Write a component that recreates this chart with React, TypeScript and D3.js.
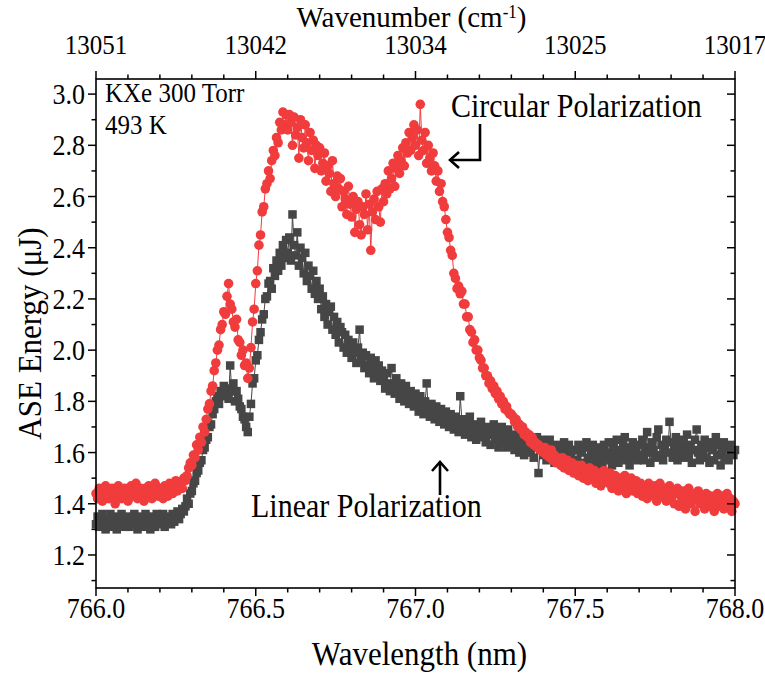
import React from "react";
import * as d3 from "d3";

const WL_START = 766.0;
const WL_STEP = 0.005;

// Circular polarization (red circles), ASE energy in µJ, sampled every 0.005 nm from 766.000 nm
const circular = [
  1.44,1.42,1.46,1.45,1.41,1.43,1.47,1.44,1.42,1.45,1.46,1.43,1.40,1.44,1.47,1.45,1.42,1.43,1.46,1.44,
  1.41,1.45,1.47,1.43,1.44,1.48,1.42,1.45,1.46,1.43,1.41,1.46,1.44,1.47,1.45,1.42,1.44,1.48,1.45,1.43,
  1.46,1.44,1.42,1.47,1.45,1.43,1.48,1.46,1.44,1.47,1.49,1.45,1.47,1.48,1.46,1.50,1.49,1.51,1.54,1.56,
  1.55,1.59,1.58,1.63,1.61,1.66,1.64,1.70,1.68,1.73,1.77,1.79,1.84,1.86,1.92,1.95,2.00,2.02,2.08,2.10,
  2.15,2.14,2.21,2.26,2.18,2.16,2.11,2.09,2.12,2.04,2.03,1.98,2.00,1.94,1.95,1.89,1.93,2.01,2.11,2.16,
  2.26,2.31,2.41,2.45,2.54,2.56,2.63,2.65,2.70,2.67,2.74,2.78,2.76,2.83,2.81,2.89,2.86,2.93,2.88,2.92,
  2.86,2.92,2.89,2.80,2.91,2.84,2.87,2.75,2.90,2.83,2.79,2.88,2.81,2.74,2.85,2.78,2.82,2.71,2.80,2.76,
  2.79,2.70,2.73,2.77,2.66,2.72,2.69,2.62,2.74,2.65,2.60,2.68,2.63,2.67,2.56,2.62,2.59,2.53,2.64,2.57,
  2.52,2.60,2.46,2.55,2.58,2.49,2.45,2.56,2.53,2.61,2.47,2.57,2.39,2.54,2.59,2.51,2.62,2.56,2.50,2.63,
  2.58,2.65,2.61,2.70,2.63,2.67,2.73,2.64,2.71,2.76,2.69,2.74,2.79,2.72,2.81,2.77,2.85,2.78,2.83,2.88,
  2.80,2.86,2.76,2.96,2.82,2.78,2.85,2.73,2.80,2.75,2.70,2.77,2.72,2.66,2.70,2.62,2.65,2.58,2.56,2.51,
  2.46,2.44,2.39,2.37,2.30,2.28,2.24,2.25,2.22,2.23,2.18,2.18,2.13,2.13,2.08,2.07,2.03,2.04,2.00,2.00,
  1.97,1.96,1.93,1.93,1.90,1.90,1.87,1.88,1.85,1.86,1.83,1.84,1.81,1.82,1.79,1.80,1.77,1.78,1.76,1.75,
  1.75,1.74,1.72,1.73,1.70,1.71,1.69,1.70,1.67,1.68,1.66,1.67,1.64,1.66,1.63,1.64,1.62,1.63,1.61,1.62,
  1.60,1.62,1.59,1.60,1.58,1.61,1.57,1.59,1.56,1.58,1.57,1.55,1.58,1.54,1.56,1.57,1.53,1.55,1.56,1.52,
  1.54,1.55,1.51,1.53,1.55,1.50,1.53,1.52,1.49,1.54,1.51,1.50,1.53,1.48,1.51,1.52,1.47,1.50,1.53,1.49,
  1.50,1.48,1.52,1.46,1.49,1.51,1.47,1.45,1.50,1.48,1.46,1.51,1.44,1.48,1.47,1.50,1.45,1.47,1.49,1.44,
  1.46,1.48,1.43,1.47,1.45,1.42,1.48,1.44,1.46,1.43,1.47,1.41,1.45,1.48,1.43,1.44,1.46,1.41,1.45,1.47,
  1.42,1.45,1.40,1.44,1.46,1.39,1.43,1.41,1.45,1.38,1.43,1.46,1.40,1.42,1.44,1.37,1.42,1.45,1.40,1.43,
  1.41,1.38,1.44,1.42,1.39,1.43,1.40,1.37,1.42,1.44,1.39,1.41,1.43,1.38,1.40,1.44,1.39,1.42,1.37,1.41,
  1.40,
];

// Linear polarization (dark grey squares)
const linear = [
  1.32,1.35,1.31,1.33,1.36,1.32,1.30,1.34,1.33,1.36,1.31,1.33,1.35,1.30,1.34,1.32,1.36,1.33,1.31,1.34,
  1.35,1.31,1.33,1.32,1.36,1.34,1.30,1.33,1.35,1.31,1.34,1.36,1.32,1.33,1.30,1.35,1.33,1.31,1.36,1.34,
  1.32,1.34,1.36,1.31,1.33,1.35,1.34,1.32,1.36,1.33,1.35,1.37,1.34,1.36,1.38,1.37,1.39,1.42,1.40,1.44,
  1.45,1.48,1.49,1.52,1.53,1.56,1.57,1.61,1.62,1.65,1.66,1.70,1.71,1.75,1.77,1.80,1.82,1.79,1.84,1.82,
  1.86,1.83,1.85,1.81,1.94,1.84,1.87,1.80,1.84,1.81,1.78,1.77,1.74,1.73,1.70,1.68,1.74,1.79,1.87,1.89,
  1.96,1.98,2.04,2.07,2.12,2.14,2.20,2.21,2.26,2.27,2.24,2.32,2.29,2.35,2.31,2.38,2.33,2.41,2.36,2.43,
  2.38,2.44,2.35,2.53,2.41,2.37,2.46,2.33,2.40,2.36,2.30,2.38,2.27,2.33,2.29,2.24,2.31,2.22,2.27,2.20,
  2.24,2.16,2.21,2.13,2.18,2.10,2.15,2.17,2.08,2.13,2.06,2.11,2.03,2.09,2.07,2.01,2.06,1.99,2.04,2.02,
  1.97,2.03,1.99,1.95,2.01,2.08,1.96,1.99,1.93,1.98,1.94,1.91,1.97,1.93,1.89,1.96,1.91,1.94,1.88,1.92,
  1.89,1.85,1.91,1.87,1.84,1.93,1.86,1.83,1.89,1.84,1.81,1.87,1.83,1.80,1.86,1.82,1.79,1.84,1.81,1.78,
  1.83,1.79,1.76,1.82,1.78,1.75,1.80,1.87,1.77,1.74,1.79,1.76,1.73,1.78,1.75,1.72,1.77,1.74,1.71,1.76,
  1.73,1.70,1.75,1.72,1.69,1.74,1.71,1.68,1.82,1.73,1.70,1.67,1.72,1.69,1.74,1.66,1.71,1.68,1.65,1.70,
  1.67,1.72,1.66,1.69,1.64,1.70,1.67,1.63,1.68,1.71,1.65,1.68,1.62,1.67,1.70,1.64,1.66,1.62,1.69,1.65,
  1.63,1.67,1.61,1.66,1.64,1.60,1.67,1.63,1.59,1.65,1.62,1.66,1.60,1.64,1.58,1.63,1.66,1.52,1.61,1.65,
  1.59,1.63,1.57,1.62,1.65,1.58,1.61,1.56,1.63,1.60,1.57,1.62,1.59,1.64,1.56,1.60,1.63,1.58,1.61,1.55,
  1.61,1.57,1.63,1.55,1.60,1.62,1.56,1.64,1.58,1.55,1.61,1.63,1.57,1.60,1.54,1.62,1.59,1.56,1.63,1.58,
  1.60,1.64,1.57,1.55,1.62,1.59,1.65,1.56,1.61,1.58,1.63,1.66,1.57,1.60,1.55,1.62,1.64,1.58,1.61,1.57,
  1.63,1.59,1.65,1.57,1.62,1.68,1.60,1.56,1.64,1.61,1.58,1.66,1.69,1.59,1.63,1.57,1.62,1.65,1.60,1.72,
  1.64,1.58,1.61,1.66,1.57,1.63,1.60,1.65,1.58,1.62,1.67,1.59,1.63,1.56,1.61,1.65,1.69,1.60,1.57,1.63,
  1.60,1.65,1.58,1.62,1.56,1.64,1.61,1.57,1.66,1.59,1.63,1.55,1.60,1.64,1.58,1.62,1.57,1.63,1.60,1.59,
  1.61,
];

const xTicks = [766.0, 766.5, 767.0, 767.5, 768.0];
const topTickLabels = ["13051", "13042", "13034", "13025", "13017"];
const yTicks = [1.2, 1.4, 1.6, 1.8, 2.0, 2.2, 2.4, 2.6, 2.8, 3.0];

const W = 765;
const H = 676;
const M = { left: 96, right: 30, top: 79, bottom: 88 };
const FONT = "'Liberation Serif', 'Times New Roman', serif";
const RED = "#F03C3C";
const GREY = "#464646";
const SY = 1.12; // vertical stretch of the glyphs

function T(props: { x: number; y: number; size: number; anchor?: string; rotate?: number; sy?: number; children: any }) {
  const { x, y, size, anchor = "start", rotate = 0, sy = SY, children } = props;
  return (
    <text
      transform={`translate(${x},${y})${rotate ? ` rotate(${rotate})` : ""} scale(1,${sy})`}
      textAnchor={anchor}
      fontSize={size}
      fill="#000"
    >
      {children}
    </text>
  );
}

export default function App() {
  const x = d3.scaleLinear().domain([766.0, 768.0]).range([M.left, W - M.right]);
  const y = d3.scaleLinear().domain([1.071, 3.059]).range([H - M.bottom, M.top]);
  const x0 = M.left, x1 = W - M.right, y0 = H - M.bottom, y1 = M.top;

  const redPts: [number, number][] = circular.map((v, i) => [WL_START + i * WL_STEP, v]);
  const greyPts: [number, number][] = linear.map((v, i) => [WL_START + i * WL_STEP, v]);
  const line = d3.line<[number, number]>().x(d => x(d[0])).y(d => y(d[1]));

  const xMinor = d3.range(766.0, 768.0001, 0.1).filter(v => Math.abs(v * 2 - Math.round(v * 2)) > 1e-6);
  const yMinor = d3.range(1.1, 3.01, 0.2);

  const MAJ = 8, MIN = 4.5;
  const sq = 8.5;
  const fmt = d3.format(".1f");

  return (
    <svg width={W} height={H} style={{ position: "absolute", left: 0, top: 0, background: "#fff" }} fontFamily={FONT}>
      {/* series: grey first, red on top */}
      <path d={line(greyPts) || ""} fill="none" stroke={GREY} strokeWidth={1} />
      {greyPts.map((d, i) => (
        <rect key={"g" + i} x={x(d[0]) - sq / 2} y={y(d[1]) - sq / 2} width={sq} height={sq} fill={GREY} />
      ))}
      <path d={line(redPts) || ""} fill="none" stroke={RED} strokeWidth={1} />
      {redPts.map((d, i) => (
        <circle key={"r" + i} cx={x(d[0])} cy={y(d[1])} r={4.8} fill={RED} />
      ))}

      {/* frame */}
      <rect x={x0} y={y1} width={x1 - x0} height={y0 - y1} fill="none" stroke="#000" strokeWidth={1.6} />

      {/* bottom axis */}
      {xTicks.map(t => (
        <g key={"xb" + t}>
          <line x1={x(t)} x2={x(t)} y1={y0} y2={y0 + MAJ} stroke="#000" strokeWidth={1.5} />
          <T x={x(t)} y={y0 + 30} size={26} anchor="middle">{fmt(t)}</T>
        </g>
      ))}
      {xMinor.map(t => (
        <line key={"xbm" + t} x1={x(t)} x2={x(t)} y1={y0} y2={y0 + MIN} stroke="#000" strokeWidth={1.5} />
      ))}
      <T x={(x0 + x1) / 2 + 4} y={665} size={31} anchor="middle">Wavelength (nm)</T>

      {/* top axis */}
      {xTicks.map((t, i) => (
        <g key={"xt" + t}>
          <line x1={x(t)} x2={x(t)} y1={y1} y2={y1 - MAJ} stroke="#000" strokeWidth={1.5} />
          <T x={x(t)} y={54} size={25} anchor="middle" sy={1.08}>{topTickLabels[i]}</T>
        </g>
      ))}
      {xMinor.map(t => (
        <line key={"xtm" + t} x1={x(t)} x2={x(t)} y1={y1} y2={y1 - MIN} stroke="#000" strokeWidth={1.5} />
      ))}
      <T x={(x0 + x1) / 2 - 4} y={27} size={29} anchor="middle" sy={1.05}>
        Wavenumber (cm<tspan dy={-9} fontSize={17}>-1</tspan><tspan dy={9}>)</tspan>
      </T>

      {/* left axis */}
      {yTicks.map(t => (
        <g key={"yl" + t}>
          <line x1={x0} x2={x0 - MAJ} y1={y(t)} y2={y(t)} stroke="#000" strokeWidth={1.5} />
          <T x={x0 - 11} y={y(t) + 10} size={26} anchor="end">{fmt(t)}</T>
        </g>
      ))}
      {yMinor.map(t => (
        <line key={"ylm" + t} x1={x0} x2={x0 - MIN} y1={y(t)} y2={y(t)} stroke="#000" strokeWidth={1.5} />
      ))}
      <T x={41} y={(y0 + y1) / 2} size={31} anchor="middle" rotate={-90}>ASE Energy (μJ)</T>

      {/* right axis */}
      {yTicks.map(t => (
        <line key={"yr" + t} x1={x1} x2={x1 - MAJ} y1={y(t)} y2={y(t)} stroke="#000" strokeWidth={1.5} />
      ))}
      {yMinor.map(t => (
        <line key={"yrm" + t} x1={x1} x2={x1 - MIN} y1={y(t)} y2={y(t)} stroke="#000" strokeWidth={1.5} />
      ))}

      {/* annotations */}
      <T x={105} y={102} size={25}>KXe 300 Torr</T>
      <T x={105} y={134} size={25}>493 K</T>

      <T x={451} y={117} size={30}>Circular Polarization</T>
      <polyline points="480,124 480,160 451,160" fill="none" stroke="#000" strokeWidth={2.6} />
      <polyline points="459,152 450,160 459,168" fill="none" stroke="#000" strokeWidth={2.6} />

      <T x={251} y={517} size={30}>Linear Polarization</T>
      <line x1={440} x2={440} y1={495} y2={463} stroke="#000" strokeWidth={2.6} />
      <polyline points="432,471 440,462 448,471" fill="none" stroke="#000" strokeWidth={2.6} />
    </svg>
  );
}
